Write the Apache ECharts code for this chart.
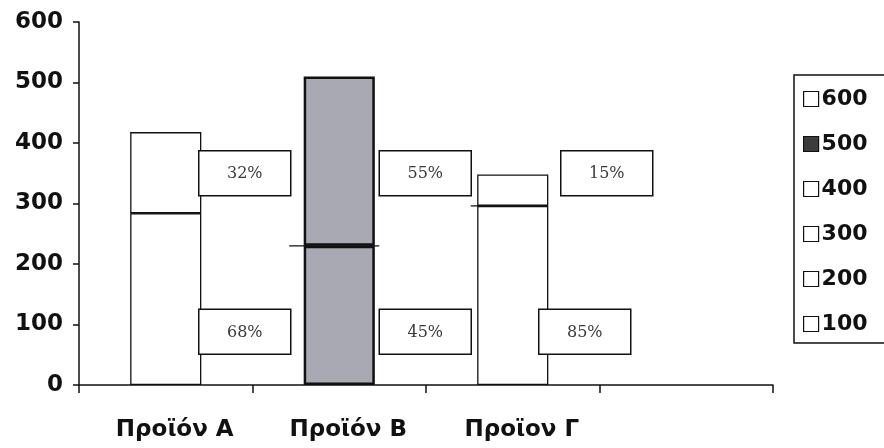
<!DOCTYPE html>
<html>
<head>
<meta charset="utf-8">
<script src="https://cdn.jsdelivr.net/npm/echarts@6/dist/echarts.min.js"></script>
<style>
  html, body { margin: 0; padding: 0; background: #ffffff; }
  #chart { width: 884px; height: 448px; }
</style>
</head>
<body>
<div id="chart"></div>
<script>
// Product categories (the last slot is left empty on the axis)
const categories = ['Προϊόν Α', 'Προϊόν Β', 'Προϊον Γ', ''];
// Total height of each product's column
const totals = [418, 510, 348];
// Share of the lower and upper part of each column, in percent
const lowerShare = [68, 45, 85];
const upperShare = [32, 55, 15];
// Legend entries
const legendNames = ['600', '500', '400', '300', '200', '100'];
// Value-axis ticks
const yTicks = { min: 0, max: 600, step: 100 };

// ---- layout and styling ----
const INK = '#111111';
const SHADE = '#a9a9b3';
const SHADED_INDEX = 1;            // product drawn filled in grey
const LEGEND_FILLS = ['#ffffff', '#3c3c3c', '#ffffff', '#ffffff', '#ffffff', '#ffffff'];
const BOX_W = 92, BOX_H = 45;
const UPPER_BOX_LEVEL = 350;       // axis value at which the upper-share boxes sit
const LOWER_BOX_LEVEL = 88;        // axis value at which the lower-share boxes sit
const upperBoxDx = [79, 86, 94];   // box centre offset from column centre (px)
const lowerBoxDx = [79, 86, 72];
const splitFrom = [-35, -50, -42]; // extent of the dividing stroke (px from centre)
const splitTo = [35, 40, 27];
const AXIS_FONT = 'DejaVu Sans';

const lowerValues = categories.map((c, i) =>
  i < totals.length ? Math.round(totals[i] * lowerShare[i] / 100) : '-');
const upperValues = categories.map((c, i) =>
  i < totals.length ? totals[i] - lowerValues[i] : '-');

function barItem(v, i) {
  if (v === '-') return v;
  const shaded = i === SHADED_INDEX;
  return {
    value: v,
    itemStyle: {
      color: shaded ? SHADE : '#ffffff',
      borderColor: INK,
      borderWidth: shaded ? 2.5 : 1.3
    }
  };
}

function renderBoxes(params, api) {
  const i = api.value(0);
  const cx = api.coord([i, 0])[0];
  const children = [];
  const splitY = api.coord([i, lowerValues[i]])[1];
  children.push({
    type: 'line',
    shape: { x1: cx + splitFrom[i], y1: splitY, x2: cx + splitTo[i], y2: splitY },
    style: { stroke: INK, lineWidth: 1.3 }
  });
  const boxes = [
    [UPPER_BOX_LEVEL, upperShare[i], upperBoxDx[i]],
    [LOWER_BOX_LEVEL, lowerShare[i], lowerBoxDx[i]]
  ];
  boxes.forEach(([level, share, dx]) => {
    const y = api.coord([i, level])[1];
    const x = cx + dx;
    children.push({
      type: 'rect',
      shape: { x: x - BOX_W / 2, y: y - BOX_H / 2, width: BOX_W, height: BOX_H },
      style: { fill: '#ffffff', stroke: INK, lineWidth: 1.5 }
    });
    children.push({
      type: 'text',
      style: {
        x: x, y: y + 1,
        text: share + '%',
        align: 'center',
        verticalAlign: 'middle',
        fill: '#3a3a3a',
        font: '16px "DejaVu Serif"'
      }
    });
  });
  return { type: 'group', children: children };
}

const chart = echarts.init(document.getElementById('chart'));

const legendSeries = legendNames.map((name) => ({
  name: name,
  type: 'bar',
  stack: 'total',
  barWidth: '41%',
  data: []
}));

chart.setOption({
  animation: false,
  backgroundColor: '#ffffff',
  grid: { left: 79, right: 111, top: 22, bottom: 63, containLabel: false },
  legend: {
    orient: 'vertical',
    left: 794,
    top: 75,
    padding: [13, 40, 8, 9],
    itemGap: 23,
    itemWidth: 15,
    itemHeight: 15,
    icon: 'rect',
    selectedMode: false,
    borderColor: INK,
    borderWidth: 1.5,
    borderRadius: 0,
    textStyle: { fontFamily: AXIS_FONT, fontWeight: 'bold', fontSize: 22, color: INK, padding: [0, 0, 0, -2] },
    data: legendNames.map((name, k) => ({
      name: name,
      itemStyle: { color: LEGEND_FILLS[k], borderColor: INK, borderWidth: 1.2 }
    }))
  },
  xAxis: {
    type: 'category',
    data: categories,
    boundaryGap: true,
    axisLine: { lineStyle: { color: INK, width: 1.5 } },
    axisTick: { show: true, length: 8, alignWithLabel: false, lineStyle: { color: INK, width: 1.5 } },
    axisLabel: {
      margin: 34,
      fontFamily: AXIS_FONT,
      fontWeight: 'bold',
      fontSize: 23,
      color: INK,
      padding: [0, 0, 0, 18]
    },
    splitLine: { show: false }
  },
  yAxis: {
    type: 'value',
    min: yTicks.min,
    max: yTicks.max,
    interval: yTicks.step,
    axisLine: { show: true, lineStyle: { color: INK, width: 1.5 } },
    axisTick: { show: true, length: 6, lineStyle: { color: INK, width: 1.5 } },
    axisLabel: {
      margin: 16,
      fontFamily: AXIS_FONT,
      fontWeight: 'bold',
      fontSize: 23,
      color: INK
    },
    splitLine: { show: false }
  },
  series: [
    {
      name: 'lower',
      type: 'bar',
      stack: 'total',
      barWidth: '41%',
      data: lowerValues.map(barItem)
    },
    {
      name: 'upper',
      type: 'bar',
      stack: 'total',
      barWidth: '41%',
      data: upperValues.map(barItem)
    },
    ...legendSeries,
    {
      name: 'shares',
      type: 'custom',
      renderItem: renderBoxes,
      data: totals.map((t, i) => [i]),
      z: 10,
      clip: false,
      silent: true
    }
  ]
});
</script>
</body>
</html>
